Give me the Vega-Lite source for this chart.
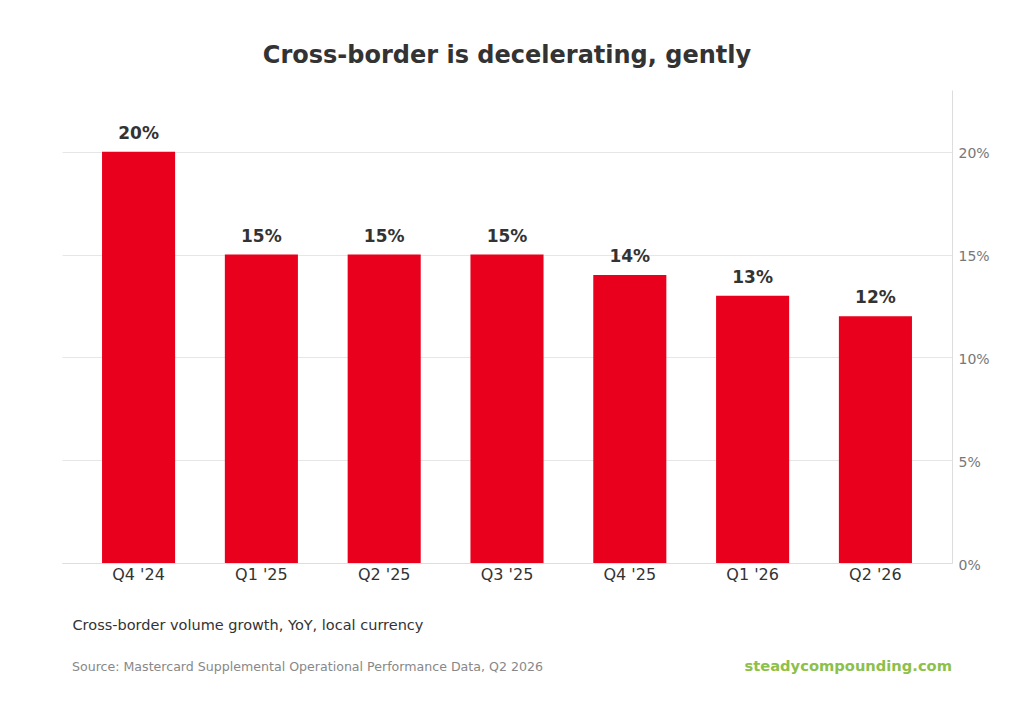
{
  "$schema": "https://vega.github.io/schema/vega-lite/v6.json",
  "width": 890,
  "height": 473,
  "autosize": "none",
  "padding": {"left": 62, "top": 90, "right": 72, "bottom": 141},
  "background": "white",
  "title": {
    "text": "Cross-border is decelerating, gently",
    "font": "DejaVu Sans",
    "fontSize": 24,
    "fontWeight": "bold",
    "color": "#333333",
    "anchor": "middle",
    "offset": 22
  },
  "data": {
    "values": [
      {"quarter": "Q4 '24", "growth": 20},
      {"quarter": "Q1 '25", "growth": 15},
      {"quarter": "Q2 '25", "growth": 15},
      {"quarter": "Q3 '25", "growth": 15},
      {"quarter": "Q4 '25", "growth": 14},
      {"quarter": "Q1 '26", "growth": 13},
      {"quarter": "Q2 '26", "growth": 12}
    ]
  },
  "config": {
    "view": {"stroke": null},
    "font": "DejaVu Sans"
  },
  "layer": [
    {
      "mark": {"type": "bar", "color": "#E8001C"},
      "encoding": {
        "x": {
          "field": "quarter",
          "type": "nominal",
          "sort": null,
          "scale": {"paddingInner": 0.405, "paddingOuter": 0.326},
          "axis": {
            "title": "Cross-border volume growth, YoY, local currency",
            "titleFont": "DejaVu Sans",
            "titleFontSize": 14.5,
            "titleFontWeight": "normal",
            "titleColor": "#333333",
            "titleAnchor": "start",
            "titleAlign": "left",
            "titleBaseline": "middle",
            "titleX": 10,
            "titleY": 62,
            "labelAngle": 0,
            "labelFontSize": 16,
            "labelColor": "#333333",
            "labelPadding": 3,
            "ticks": false,
            "domainColor": "#dddddd",
            "grid": false
          }
        },
        "y": {
          "field": "growth",
          "type": "quantitative",
          "scale": {"domain": [0, 23], "nice": false},
          "axis": {
            "orient": "right",
            "title": null,
            "values": [0, 5, 10, 15, 20],
            "labelExpr": "datum.value + '%'",
            "labelFontSize": 14,
            "labelColor": "#777777",
            "labelPadding": 6,
            "labelOffset": 2,
            "ticks": false,
            "domainColor": "#dddddd",
            "gridColor": "#e6e6e6"
          }
        }
      }
    },
    {
      "mark": {
        "type": "text",
        "dy": -13,
        "baseline": "alphabetic",
        "fontSize": 17,
        "fontWeight": "bold",
        "color": "#333333",
        "text": {"expr": "datum.growth + '%'"}
      },
      "encoding": {
        "x": {"field": "quarter", "type": "nominal", "sort": null},
        "y": {"field": "growth", "type": "quantitative"}
      }
    },
    {
      "data": {"values": [{}]},
      "mark": {
        "type": "text",
        "align": "left",
        "baseline": "middle",
        "fontSize": 12.6,
        "color": "#888888",
        "text": "Source: Mastercard Supplemental Operational Performance Data, Q2 2026"
      },
      "encoding": {"x": {"value": 10}, "y": {"value": 577}}
    },
    {
      "data": {"values": [{}]},
      "mark": {
        "type": "text",
        "align": "right",
        "baseline": "middle",
        "fontSize": 14.7,
        "fontWeight": "bold",
        "color": "#8dc04a",
        "text": "steadycompounding.com"
      },
      "encoding": {"x": {"value": 890}, "y": {"value": 577}}
    }
  ]
}
